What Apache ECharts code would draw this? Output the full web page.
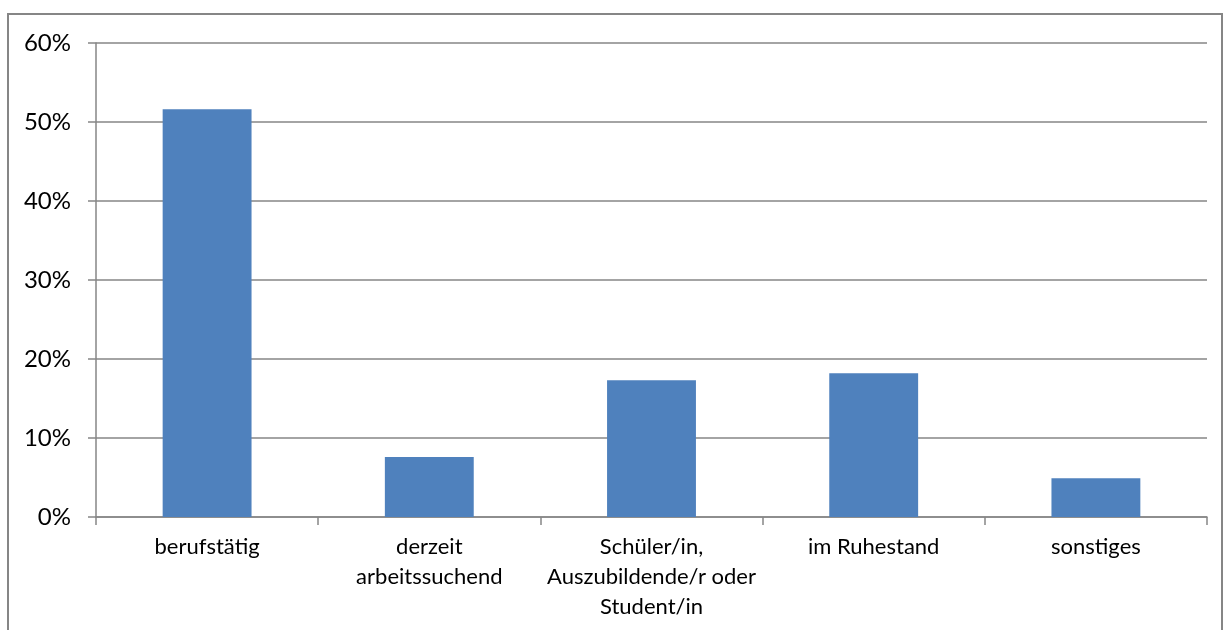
<!DOCTYPE html>
<html>
<head>
<meta charset="utf-8">
<script src="https://cdn.jsdelivr.net/npm/echarts@6/dist/echarts.min.js"></script>
<style>
  html, body { margin: 0; padding: 0; background: #fff; }
  #chart { width: 1230px; height: 630px; }
</style>
</head>
<body>
<div id="chart"></div>
<script>
// Kategorien (mit Zeilenumbrüchen wie im Original) und Anteile (in %)
const categories = [
  'berufstätig',
  'derzeit\narbeitssuchend',
  'Schüler/in,\nAuszubildende/r oder\nStudent/in',
  'im Ruhestand',
  'sonstiges'
];
const shares = [51.6, 7.6, 17.3, 18.2, 4.9];
const yTicks = [0, 10, 20, 30, 40, 50, 60];

const fontFamily = 'Lato, "Open Sans", sans-serif';
const gridColor = '#868686';

const chart = echarts.init(document.getElementById('chart'));

const option = {
  backgroundColor: '#ffffff',
  animation: false,
  textStyle: { fontFamily: fontFamily },
  graphic: [{
    type: 'rect',
    shape: { x: 8, y: 14, width: 1214, height: 640 },
    style: { fill: 'none', stroke: gridColor, lineWidth: 2 },
    silent: true
  }],
  grid: {
    left: 96,
    right: 23,
    top: 43,
    bottom: 113
  },
  xAxis: {
    type: 'category',
    data: categories,
    boundaryGap: true,
    axisLine: { lineStyle: { color: gridColor, width: 1.5 } },
    axisTick: { show: true, length: 8, alignWithLabel: false, lineStyle: { color: gridColor, width: 1.5 } },
    axisLabel: {
      color: '#000',
      fontSize: 22,
      fontFamily: fontFamily,
      lineHeight: 30,
      margin: 15,
      interval: 0
    }
  },
  yAxis: {
    type: 'value',
    min: yTicks[0],
    max: yTicks[yTicks.length - 1],
    interval: 10,
    axisLine: { show: true, lineStyle: { color: gridColor, width: 1.5 } },
    axisTick: { show: true, length: 8, lineStyle: { color: gridColor, width: 1.5 } },
    splitLine: { lineStyle: { color: gridColor, width: 1.5 } },
    axisLabel: {
      color: '#000',
      fontSize: 24,
      fontFamily: fontFamily,
      margin: 25,
      formatter: (v) => v + '%'
    }
  },
  series: [{
    type: 'bar',
    data: shares,
    barWidth: '40%',
    itemStyle: { color: '#4F81BD' }
  }]
};

chart.setOption(option);
</script>
</body>
</html>
